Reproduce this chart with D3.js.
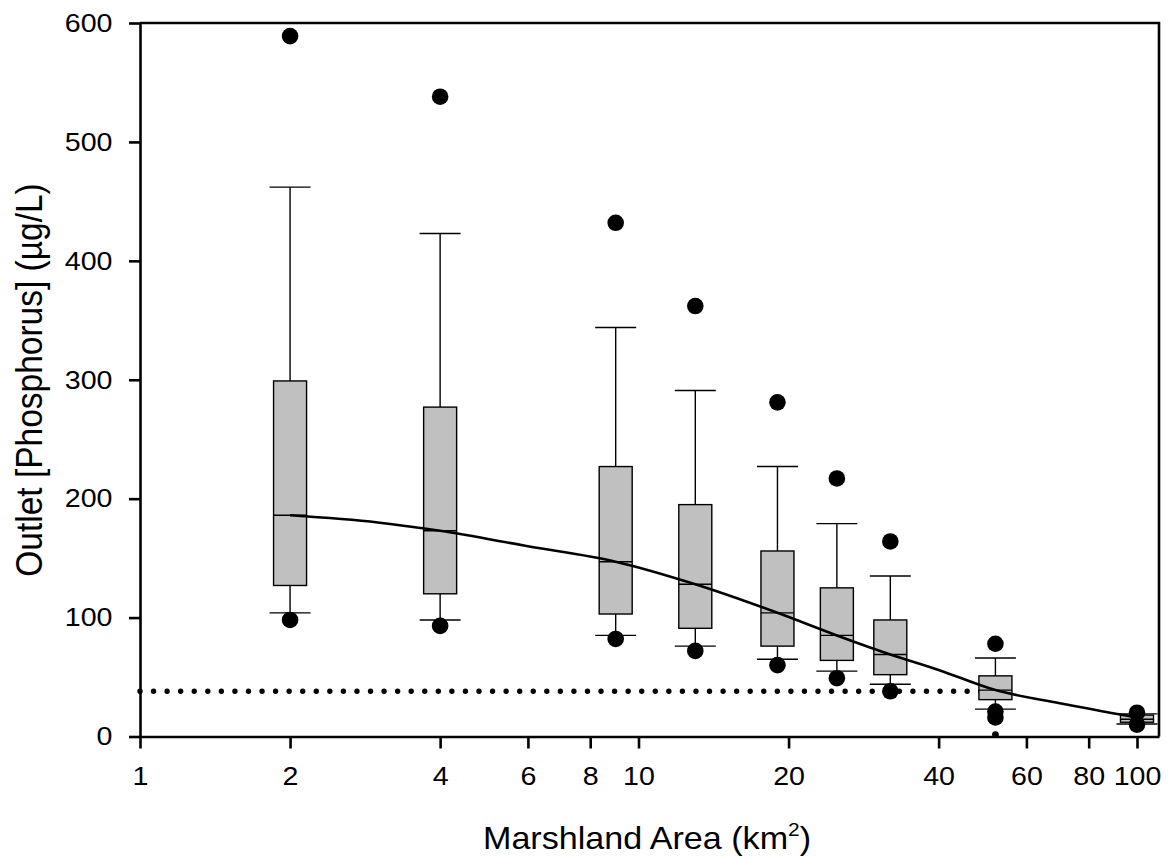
<!DOCTYPE html>
<html>
<head>
<meta charset="utf-8">
<script src="https://cdn.jsdelivr.net/npm/d3@7"></script>
<style>
  body { margin: 0; background: #fff; }
  svg { display: block; font-family: "Liberation Sans", Arial, sans-serif; }
  .axis text { font-size: 26px; fill: #000; }
  .axis-title { fill: #000; }
</style>
</head>
<body>
<svg id="chart"></svg>
<script>
// box statistics per marshland area (km2)
const areas = [2, 4, 9, 13, 19, 25, 32, 52, 100];
const whiskerHigh = [462, 423, 344, 291, 227, 179, 135, 66, 19];
const q3 = [299, 277, 227, 195, 156, 125, 98, 51, 18];
const medians = [186, 173, 147, 128, 104, 85, 69, 39, 14.5];
const q1 = [127, 120, 103, 91, 76, 64, 52, 31, 12];
const whiskerLow = [104, 98, 85, 76, 65, 55, 44, 23, 10.5];

// outlying points [area, value]
const outliers = [
  [2, 589], [2, 98], [4, 538], [4, 93], [9, 432], [9, 82],
  [13, 362], [13, 72], [19, 281], [19, 60], [25, 217], [25, 49],
  [32, 164], [32, 38], [52, 78], [52, 21], [52, 16], [100, 20], [100, 10]
];
const smallPoints = [[52, 1.5]];

// fitted curve
const curveAreas = [2, 3, 4, 6, 9, 13, 19, 25, 32, 40, 52, 70, 100];
const curveValues = [186, 180, 173, 160, 147, 128, 104, 85, 69, 56, 39, 28, 16];

// threshold line
const thresholdValue = 38;
const thresholdRange = [1, 52];

const xTicks = [1, 2, 4, 6, 8, 10, 20, 40, 60, 80, 100];
const yTicks = [0, 100, 200, 300, 400, 500, 600];

const width = 1172, height = 859;
const margin = { top: 23, right: 13, bottom: 122.5, left: 140 };
const innerW = width - margin.left - margin.right;
const innerH = height - margin.top - margin.bottom;

const svg = d3.select("#chart").attr("width", width).attr("height", height);
const chart = svg.append("g").attr("transform", `translate(${margin.left},${margin.top})`);

const xScale = d3.scaleLog().domain([1, 110.7]).range([0, innerW]);
const yScale = d3.scaleLinear().domain([0, 600]).range([innerH, 0]);

const boxW = 33, capW = 41;

// threshold dotted line
chart.append("line")
  .attr("x1", xScale(thresholdRange[0]))
  .attr("x2", xScale(thresholdRange[1]))
  .attr("y1", yScale(thresholdValue))
  .attr("y2", yScale(thresholdValue))
  .attr("stroke", "#000")
  .attr("stroke-width", 5.4)
  .attr("stroke-linecap", "round")
  .attr("stroke-dasharray", "0 13.56");

const boxes = areas.map((a, i) => ({
  area: a, hi: whiskerHigh[i], q3: q3[i], med: medians[i], q1: q1[i], lo: whiskerLow[i]
}));

const g = chart.selectAll(".box").data(boxes).join("g").attr("class", "box");

// whiskers
g.append("line")
  .attr("x1", (d) => xScale(d.area)).attr("x2", (d) => xScale(d.area))
  .attr("y1", (d) => yScale(d.hi)).attr("y2", (d) => yScale(d.q3))
  .attr("stroke", "#000").attr("stroke-width", 1.4);
g.append("line")
  .attr("x1", (d) => xScale(d.area)).attr("x2", (d) => xScale(d.area))
  .attr("y1", (d) => yScale(d.q1)).attr("y2", (d) => yScale(d.lo))
  .attr("stroke", "#000").attr("stroke-width", 1.4);
// caps
g.append("line")
  .attr("x1", (d) => xScale(d.area) - capW / 2).attr("x2", (d) => xScale(d.area) + capW / 2)
  .attr("y1", (d) => yScale(d.hi)).attr("y2", (d) => yScale(d.hi))
  .attr("stroke", "#000").attr("stroke-width", 1.4);
g.append("line")
  .attr("x1", (d) => xScale(d.area) - capW / 2).attr("x2", (d) => xScale(d.area) + capW / 2)
  .attr("y1", (d) => yScale(d.lo)).attr("y2", (d) => yScale(d.lo))
  .attr("stroke", "#000").attr("stroke-width", 1.4);
// box
g.append("rect")
  .attr("x", (d) => xScale(d.area) - boxW / 2)
  .attr("width", boxW)
  .attr("y", (d) => yScale(d.q3))
  .attr("height", (d) => yScale(d.q1) - yScale(d.q3))
  .attr("fill", "#c0c0c0")
  .attr("stroke", "#000").attr("stroke-width", 1.4);
// median
g.append("line")
  .attr("x1", (d) => xScale(d.area) - boxW / 2).attr("x2", (d) => xScale(d.area) + boxW / 2)
  .attr("y1", (d) => yScale(d.med)).attr("y2", (d) => yScale(d.med))
  .attr("stroke", "#000").attr("stroke-width", 1.4);

// fitted curve
const curvePts = curveAreas.map((a, i) => [a, curveValues[i]]);
chart.append("path")
  .datum(curvePts)
  .attr("fill", "none")
  .attr("stroke", "#000")
  .attr("stroke-width", 2.6)
  .attr("d", d3.line().x((d) => xScale(d[0])).y((d) => yScale(d[1])).curve(d3.curveMonotoneX));

// outliers
chart.selectAll(".outlier").data(outliers).join("circle")
  .attr("class", "outlier")
  .attr("cx", (d) => xScale(d[0]))
  .attr("cy", (d) => yScale(d[1]))
  .attr("r", 8.3)
  .attr("fill", "#000");
chart.selectAll(".small-pt").data(smallPoints).join("circle")
  .attr("class", "small-pt")
  .attr("cx", (d) => xScale(d[0]))
  .attr("cy", (d) => yScale(d[1]))
  .attr("r", 3.4)
  .attr("fill", "#000");

// axes
const xAxis = d3.axisBottom(xScale).tickValues(xTicks).tickFormat(d3.format("d"))
  .tickSizeInner(12).tickSizeOuter(0).tickPadding(18);
const yAxis = d3.axisLeft(yScale).tickValues(yTicks)
  .tickSizeInner(11).tickSizeOuter(0).tickPadding(14);

// glyphs in the picture are a bit wider than the font, so stretch them
chart.append("g").attr("class", "axis x-axis")
  .attr("transform", `translate(0,${innerH})`)
  .call(xAxis)
  .call((a) => a.selectAll("line, path").attr("stroke-width", 2.6))
  .call((a) => a.selectAll("text").attr("transform", "scale(1.1,1)"));
chart.append("g").attr("class", "axis y-axis")
  .call(yAxis)
  .call((a) => a.selectAll("line, path").attr("stroke-width", 2.6))
  .call((a) => a.selectAll("text").attr("transform", "scale(1.1,1)"));

// top and right frame
chart.append("path")
  .attr("d", `M0,0H${innerW}V${innerH}`)
  .attr("fill", "none")
  .attr("stroke", "#000")
  .attr("stroke-width", 2.6);

// axis titles
const xt = svg.append("text")
  .attr("class", "axis-title")
  .attr("font-size", 31)
  .attr("transform", "translate(647,849) scale(1.1,1)")
  .attr("text-anchor", "middle");
xt.append("tspan").text("Marshland Area (km");
xt.append("tspan").attr("dy", -13).attr("font-size", 19).text("2");
xt.append("tspan").attr("dy", 13).text(")");

svg.append("text")
  .attr("class", "axis-title")
  .attr("font-size", 33.5)
  .attr("transform", "translate(42,380) scale(1.1,1) rotate(-90)")
  .attr("text-anchor", "middle")
  .text("Outlet [Phosphorus] (µg/L)");
</script>
</body>
</html>
